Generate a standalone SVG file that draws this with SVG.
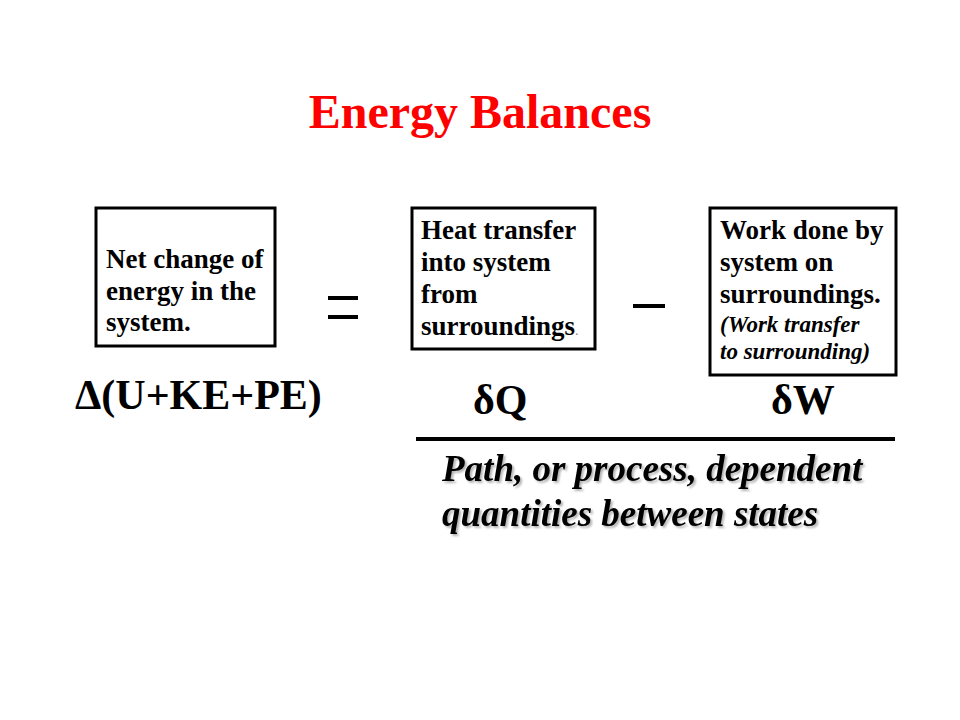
<svg xmlns="http://www.w3.org/2000/svg" width="960" height="720" viewBox="0 0 960 720">
<style>
.box{fill:#fff;stroke:#000;stroke-width:3}
.t{font-family:"Liberation Serif","Times New Roman",serif;font-weight:bold;fill:#000}
.b{font-size:27px}
.i{font-size:23px;font-style:italic}
.big{font-size:42px}
.sh{font-size:37px;font-style:italic}
</style>
<defs>
<filter id="shadow" x="-5%" y="-20%" width="110%" height="140%">
<feGaussianBlur in="SourceAlpha" stdDeviation="0.8"/>
<feOffset dx="2" dy="2" result="o"/>
<feComponentTransfer><feFuncA type="linear" slope="0.3"/></feComponentTransfer>
<feMerge><feMergeNode/><feMergeNode in="SourceGraphic"/></feMerge>
</filter>
</defs>
<rect width="960" height="720" fill="#fff"/>
<text x="480" y="128" text-anchor="middle" class="t" font-size="48" style="fill:#ff0000">Energy Balances</text>
<g id="node-energy">
<rect class="box" x="96" y="208" width="179" height="138"/>
<text class="t b" x="106" y="268">Net change of</text>
<text class="t b" x="106" y="300">energy in the</text>
<text class="t b" x="106" y="331">system.</text>
</g>
<g id="node-heat">
<rect class="box" x="412" y="208" width="183" height="141"/>
<text class="t b" x="421" y="239">Heat transfer</text>
<text class="t b" x="421" y="271">into system</text>
<text class="t b" x="421" y="303">from</text>
<text class="t b" x="421" y="335">surroundings<tspan font-size="14" font-weight="normal" fill="#888">.</tspan></text>
</g>
<g id="node-work">
<rect class="box" x="710" y="208" width="186" height="167"/>
<text class="t b" x="720" y="239">Work done by</text>
<text class="t b" x="720" y="271">system on</text>
<text class="t b" x="720" y="303">surroundings.</text>
<text class="t i" x="720" y="332">(Work transfer</text>
<text class="t i" x="720" y="359">to surrounding)</text>
</g>
<g id="operators">
<rect x="328" y="296" width="30" height="4" fill="#000"/>
<rect x="328" y="315" width="30" height="4" fill="#000"/>
<rect x="633" y="304" width="32" height="4" fill="#000"/>
</g>
<g id="symbols">
<text class="t big" x="75" y="409">Δ(U+KE+PE)</text>
<text class="t big" x="473" y="414">δQ</text>
<text class="t big" x="771" y="414">δW</text>
</g>
<g id="connectors">
<line x1="416" y1="439" x2="895" y2="439" stroke="#000" stroke-width="4"/>
</g>
<g id="note" filter="url(#shadow)">
<text class="t sh" x="442" y="481">Path, or process, dependent</text>
<text class="t sh" x="442" y="526">quantities between states</text>
</g>
</svg>
